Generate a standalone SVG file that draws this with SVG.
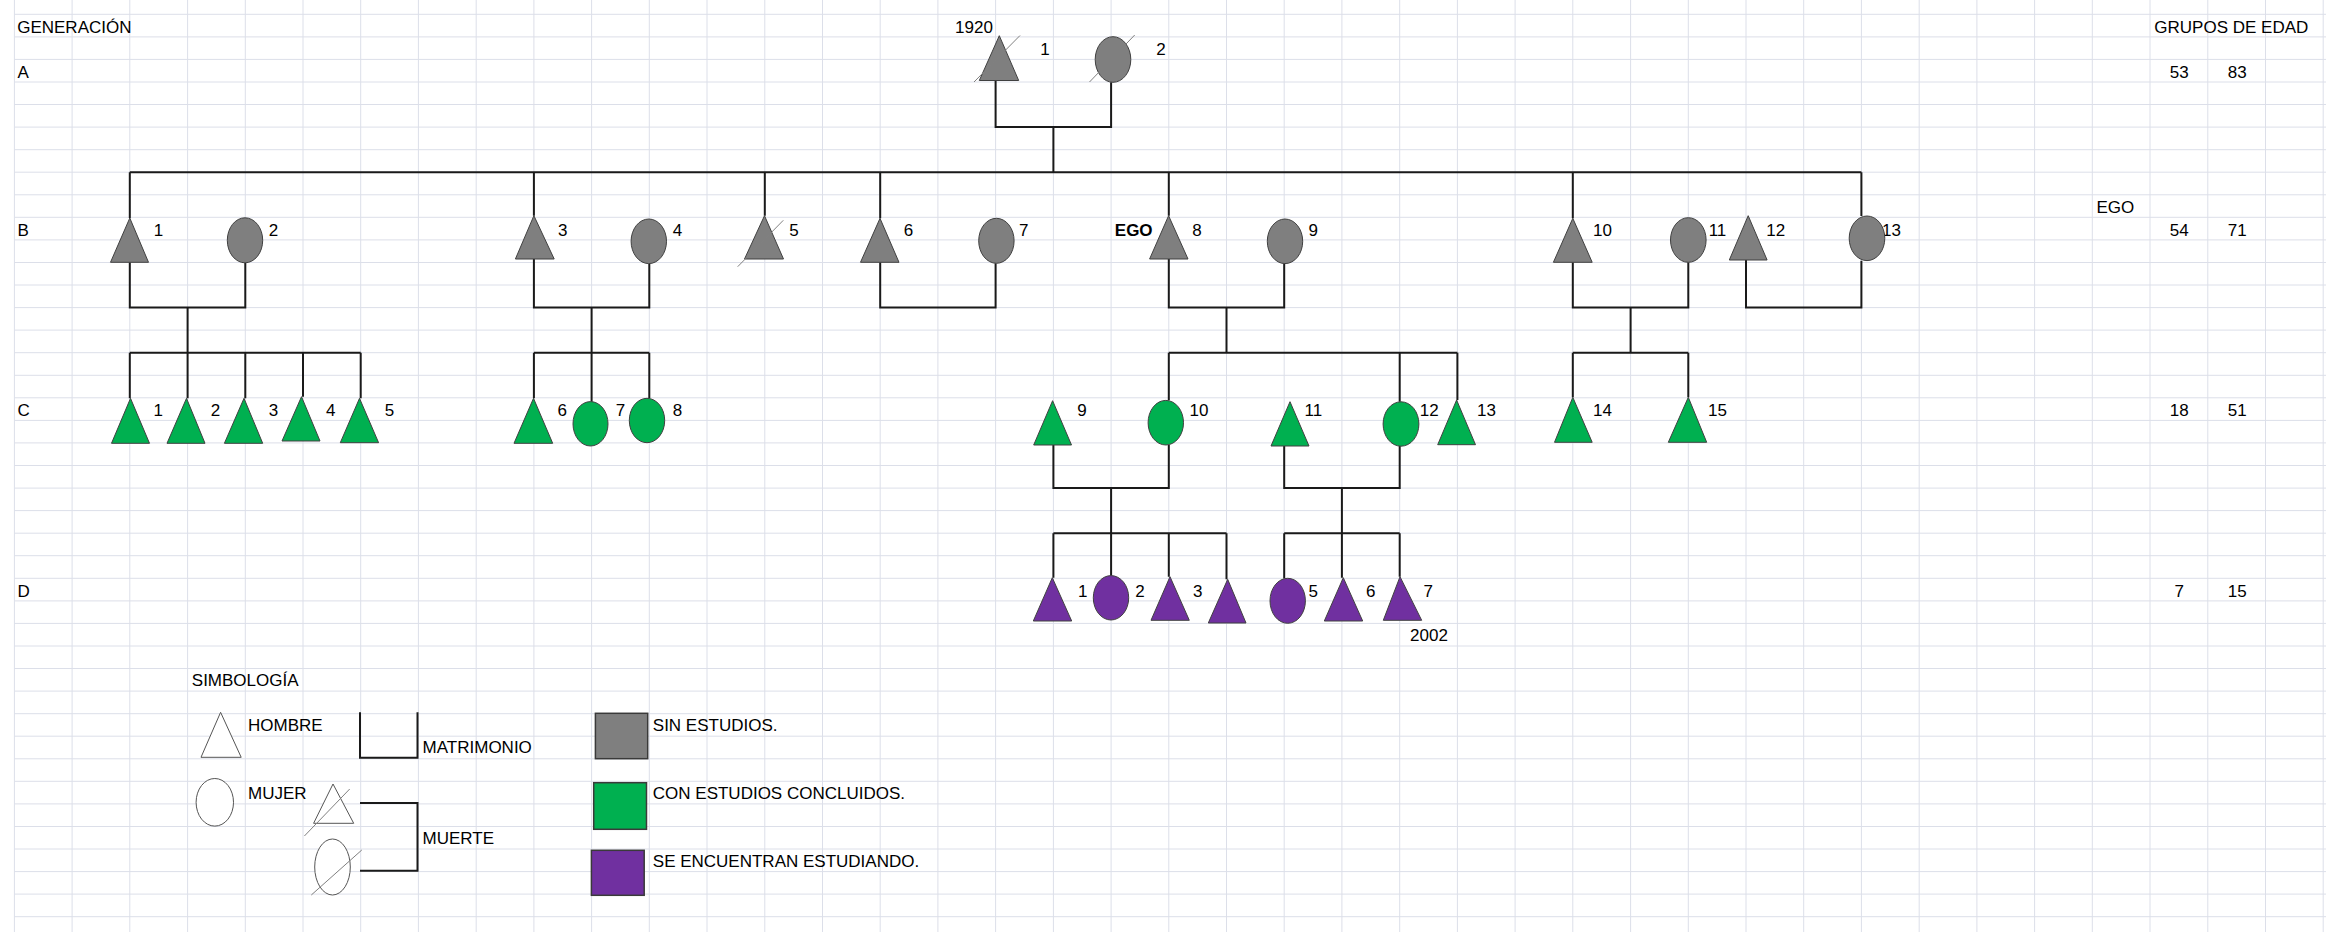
<svg xmlns="http://www.w3.org/2000/svg" width="2326" height="932" viewBox="0 0 2326 932">
<style>
.t{font-family:"Liberation Sans",Arial,sans-serif;font-size:17px;fill:#000}
.n{font-family:"Liberation Sans",Arial,sans-serif;font-size:17px;fill:#000;text-anchor:middle}
.b{font-weight:bold}
.c{fill:none;stroke:#1a1a1a;stroke-width:2}
.g{fill:#7f7f7f;stroke:#404040;stroke-width:1}
.v{fill:#00b050;stroke:#404040;stroke-width:1}
.p{fill:#7030a0;stroke:#404040;stroke-width:1}
.w{fill:#fff;stroke:#555;stroke-width:1}
.s{stroke:#808080;stroke-width:1;fill:none}
.grid{stroke:#dcdfe9;stroke-width:1;fill:none}
</style>
<rect x="0" y="0" width="2326" height="932" fill="#fff"/>
<g id="grid">
<path class="grid" d="M14.4,14.3H2326M14.4,36.9H2326M14.4,59.4H2326M14.4,82H2326M14.4,104.5H2326M14.4,127.1H2326M14.4,149.7H2326M14.4,172.2H2326M14.4,194.8H2326M14.4,217.3H2326M14.4,239.9H2326M14.4,262.5H2326M14.4,285H2326M14.4,307.6H2326M14.4,330.1H2326M14.4,352.7H2326M14.4,375.3H2326M14.4,397.8H2326M14.4,420.4H2326M14.4,442.9H2326M14.4,465.5H2326M14.4,488.1H2326M14.4,510.6H2326M14.4,533.2H2326M14.4,555.7H2326M14.4,578.3H2326M14.4,600.9H2326M14.4,623.4H2326M14.4,646H2326M14.4,668.5H2326M14.4,691.1H2326M14.4,713.7H2326M14.4,736.2H2326M14.4,758.8H2326M14.4,781.3H2326M14.4,803.9H2326M14.4,826.5H2326M14.4,849H2326M14.4,871.6H2326M14.4,894.1H2326M14.4,916.7H2326"/>
<path class="grid" d="M14.4,0V932M72.1,0V932M129.8,0V932M187.6,0V932M245.3,0V932M303,0V932M360.7,0V932M418.4,0V932M476.2,0V932M533.9,0V932M591.6,0V932M649.3,0V932M707,0V932M764.8,0V932M822.5,0V932M880.2,0V932M937.9,0V932M995.6,0V932M1053.4,0V932M1111.1,0V932M1168.8,0V932M1226.5,0V932M1284.2,0V932M1341.9,0V932M1399.7,0V932M1457.4,0V932M1515.1,0V932M1572.8,0V932M1630.6,0V932M1688.3,0V932M1746,0V932M1803.7,0V932M1861.4,0V932M1919.2,0V932M1976.9,0V932M2034.6,0V932M2092.3,0V932M2150,0V932M2207.8,0V932M2265.5,0V932M2323.2,0V932"/>
</g>
<g id="headers">
<text class="t" x="17.2" y="32.5">GENERACIÓN</text>
<text class="t" x="17.5" y="77.5">A</text>
<text class="t" x="17.5" y="235.5">B</text>
<text class="t" x="17.5" y="416">C</text>
<text class="t" x="17.5" y="596.5">D</text>
<text class="t" x="2154.3" y="32.5">GRUPOS DE EDAD</text>
<text class="n" x="2179.3" y="77.5">53</text>
<text class="n" x="2237.3" y="77.5">83</text>
<text class="t" x="2096.5" y="213">EGO</text>
<text class="n" x="2179.3" y="235.5">54</text>
<text class="n" x="2237.3" y="235.5">71</text>
<text class="n" x="2179.3" y="416">18</text>
<text class="n" x="2237.3" y="416">51</text>
<text class="n" x="2179.3" y="596.5">7</text>
<text class="n" x="2237.3" y="596.5">15</text>
<text class="n" x="974" y="32.5">1920</text>
<text class="n" x="1429" y="641">2002</text>
<text class="t b" x="1114.8" y="235.5">EGO</text>
</g>
<g id="connectors">
<path class="c" d="M995.6,80.5V127.1H1111.1V82.3M1053.4,127.1V172.2"/>
<path class="c" d="M129.8,172.2H1861.4M129.8,172.2V218M533.9,172.2V215.7M764.8,172.2V215.7M880.2,172.2V218.3M1168.8,172.2V215.7M1572.8,172.2V218.3M1861.4,172.2V216"/>
<path class="c" d="M129.8,262.3V307.6H245.3V262.8M187.6,307.6V352.7M129.8,352.7H360.7M129.8,352.7V398.3M187.6,352.7V398.3M245.3,352.7V398.3M303,352.7V396.7M360.7,352.7V398.3"/>
<path class="c" d="M533.9,259V307.6H649.3V263.7M591.6,307.6V352.7M533.9,352.7H649.3M533.9,352.7V398.3M591.6,352.7V401.7M649.3,352.7V398.3"/>
<path class="c" d="M880.2,262.3V307.6H995.6V263.3"/>
<path class="c" d="M1168.8,259V307.6H1284.2V263.7M1226.5,307.6V352.7M1168.8,352.7H1457.4M1168.8,352.7V400.3M1399.7,352.7V401.7M1457.4,352.7V400"/>
<path class="c" d="M1572.8,262.3V307.6H1688.3V262.3M1630.6,307.6V352.7M1572.8,352.7H1688.3M1572.8,352.7V397.3M1688.3,352.7V397.3"/>
<path class="c" d="M1746,260V307.6H1861.4V260.7"/>
<path class="c" d="M1053.4,445V488.1H1168.8V445M1111.1,488.1V533.2M1053.4,533.2H1226.5M1053.4,533.2V577.7M1111.1,533.2V575.7M1168.8,533.2V576.7M1226.5,533.2V579.3"/>
<path class="c" d="M1284.2,446V488.1H1399.7V446M1341.9,488.1V533.2M1284.2,533.2H1399.7M1284.2,533.2V578.5M1341.9,533.2V577.7M1399.7,533.2V576.7"/>
</g>
<g id="A1"><polygon class="g" points="999.3,35.7 1018.7,80.5 979.3,80.5"/><line class="s" x1="974" y1="82" x2="1020" y2="35.5"/><text class="n" x="1045" y="55">1</text></g>
<g id="A2"><ellipse class="g" cx="1113" cy="59.5" rx="17.8" ry="22.8"/><line class="s" x1="1089.5" y1="82" x2="1134.7" y2="35"/><text class="n" x="1161" y="55">2</text></g>
<g id="B1"><polygon class="g" points="129.8,218 148.5,262.3 110.5,262.3"/><text class="n" x="158.5" y="235.5">1</text></g>
<g id="B2"><ellipse class="g" cx="245" cy="240.3" rx="17.7" ry="22.5"/><text class="n" x="273.6" y="235.5">2</text></g>
<g id="B3"><polygon class="g" points="533.9,215.7 554.2,259 515.4,259"/><text class="n" x="562.7" y="235.5">3</text></g>
<g id="B4"><ellipse class="g" cx="648.8" cy="241.3" rx="17.7" ry="22.3"/><text class="n" x="677.6" y="235.5">4</text></g>
<g id="B5"><polygon class="g" points="764.5,215.7 783.5,259 744.5,259"/><line class="s" x1="737.7" y1="266.7" x2="783.3" y2="220.3"/><text class="n" x="794" y="235.5">5</text></g>
<g id="B6"><polygon class="g" points="880,218.3 899,262.3 860.5,262.3"/><text class="n" x="908.4" y="235.5">6</text></g>
<g id="B7"><ellipse class="g" cx="996.4" cy="240.8" rx="17.7" ry="22.5"/><text class="n" x="1023.8" y="235.5">7</text></g>
<g id="B8"><polygon class="g" points="1168.6,215.7 1188,259 1149.6,259"/><text class="n" x="1196.9" y="235.5">8</text></g>
<g id="B9"><ellipse class="g" cx="1285" cy="241.3" rx="17.7" ry="22.3"/><text class="n" x="1313.3" y="235.5">9</text></g>
<g id="B10"><polygon class="g" points="1572.8,218.3 1592.2,262.3 1553.4,262.3"/><text class="n" x="1602.5" y="235.5">10</text></g>
<g id="B11"><ellipse class="g" cx="1688.3" cy="240" rx="17.8" ry="22.3"/><text class="n" x="1717.5" y="235.5">11</text></g>
<g id="B12"><polygon class="g" points="1748.2,215.7 1767.1,260 1729.3,260"/><text class="n" x="1775.7" y="235.5">12</text></g>
<g id="B13"><text class="n" x="1891.5" y="235.5">13</text><ellipse class="g" cx="1867" cy="238.3" rx="17.8" ry="22.3"/></g>
<g id="C1"><polygon class="v" points="130.5,398.3 149.5,443.3 111.5,443.3"/><text class="n" x="158.2" y="416">1</text></g>
<g id="C2"><polygon class="v" points="186.5,398.3 205,443.3 167,443.3"/><text class="n" x="215.4" y="416">2</text></g>
<g id="C3"><polygon class="v" points="244,398.3 262.7,443.3 224.4,443.3"/><text class="n" x="273.6" y="416">3</text></g>
<g id="C4"><polygon class="v" points="301.5,396.7 320,441 282,441"/><text class="n" x="330.8" y="416">4</text></g>
<g id="C5"><polygon class="v" points="359.5,398.3 378.6,442.7 340.3,442.7"/><text class="n" x="389.6" y="416">5</text></g>
<g id="C6"><polygon class="v" points="533.5,398.3 552.7,443.3 514,443.3"/><text class="n" x="562.2" y="416">6</text></g>
<g id="C7"><ellipse class="v" cx="590.5" cy="423.8" rx="17.5" ry="22.2"/><text class="n" x="620.4" y="416">7</text></g>
<g id="C8"><ellipse class="v" cx="647" cy="420.5" rx="17.7" ry="22.2"/><text class="n" x="677.6" y="416">8</text></g>
<g id="C9"><polygon class="v" points="1052.6,400.7 1071.5,445 1033.7,445"/><text class="n" x="1082" y="416">9</text></g>
<g id="C10"><ellipse class="v" cx="1165.8" cy="422.7" rx="17.7" ry="22.3"/><text class="n" x="1198.9" y="416">10</text></g>
<g id="C11"><polygon class="v" points="1290,401.7 1309,446 1271,446"/><text class="n" x="1313.3" y="416">11</text></g>
<g id="C12"><ellipse class="v" cx="1401" cy="424" rx="17.9" ry="22.2"/><text class="n" x="1429.3" y="416">12</text></g>
<g id="C13"><polygon class="v" points="1456.6,400 1475.5,444.7 1437.7,444.7"/><text class="n" x="1486.5" y="416">13</text></g>
<g id="C14"><polygon class="v" points="1572.8,397.3 1592.2,442.3 1554.5,442.3"/><text class="n" x="1602.5" y="416">14</text></g>
<g id="C15"><polygon class="v" points="1688.3,397.3 1706.7,442.3 1668.3,442.3"/><text class="n" x="1717.5" y="416">15</text></g>
<g id="D1"><polygon class="p" points="1052.3,577.7 1071.7,621 1033.3,621"/><text class="n" x="1082.7" y="596.5">1</text></g>
<g id="D2"><ellipse class="p" cx="1111" cy="597.8" rx="17.7" ry="22.2"/><text class="n" x="1140" y="596.5">2</text></g>
<g id="D3"><polygon class="p" points="1170,576.7 1189.3,620.3 1151,620.3"/><text class="n" x="1197.7" y="596.5">3</text></g>
<g id="D4"><polygon class="p" points="1227.7,579.3 1246,623 1208.3,623"/></g>
<g id="D5"><ellipse class="p" cx="1287.7" cy="600.8" rx="17.7" ry="22.5"/><text class="n" x="1313.3" y="596.5">5</text></g>
<g id="D6"><polygon class="p" points="1343.3,577.7 1362.7,621 1324.3,621"/><text class="n" x="1370.7" y="596.5">6</text></g>
<g id="D7"><polygon class="p" points="1400,576.7 1421.7,620.3 1383.3,620.3"/><text class="n" x="1428.3" y="596.5">7</text></g>
<g id="legend">
<text class="t" x="191.8" y="686">SIMBOLOGÍA</text>
<polygon class="w" points="220.6,712.3 241.2,757.3 201,757.3"/>
<text class="t" x="248" y="730.7">HOMBRE</text>
<path class="c" d="M360,712.3V757.7H417.5V712.3"/>
<text class="t" x="422.6" y="753.3">MATRIMONIO</text>
<ellipse class="w" cx="214.8" cy="802.3" rx="18.7" ry="23.8"/>
<text class="t" x="248" y="798.7">MUJER</text>
<polygon class="w" points="333,784 353.7,823.3 313.6,823.3"/>
<line class="s" x1="304.4" y1="836" x2="349.7" y2="789"/>
<ellipse class="w" cx="332.5" cy="867" rx="17.8" ry="28"/>
<line class="s" x1="311.3" y1="895" x2="361.8" y2="850"/>
<path class="c" d="M360,803H417.5V870.7H360"/>
<text class="t" x="422.6" y="844.3">MUERTE</text>
<rect x="595.4" y="713.3" width="52.3" height="45.4" fill="#7f7f7f" stroke="#3a3a3a" stroke-width="1.5"/>
<text class="t" x="652.8" y="730.7">SIN ESTUDIOS.</text>
<rect x="593.7" y="782.7" width="52.8" height="46.6" fill="#00b050" stroke="#3a3a3a" stroke-width="1.5"/>
<text class="t" x="652.8" y="798.7">CON ESTUDIOS CONCLUIDOS.</text>
<rect x="591.4" y="850.3" width="52.8" height="45" fill="#7030a0" stroke="#3a3a3a" stroke-width="1.5"/>
<text class="t" x="652.8" y="866.7">SE ENCUENTRAN ESTUDIANDO.</text>
</g>
</svg>
